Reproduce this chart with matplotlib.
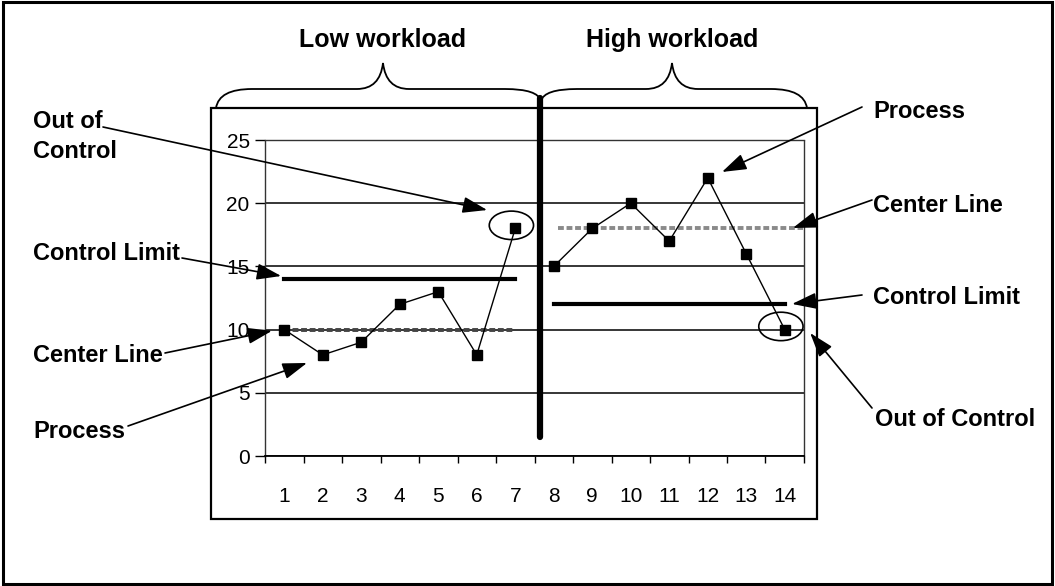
import matplotlib.pyplot as plt
from matplotlib.patches import Ellipse, Rectangle, PathPatch
from matplotlib.path import Path

plt.rcParams['font.family'] = ['Liberation Sans', 'DejaVu Sans']

# ---------------------- data ----------------------
samples = list(range(1, 15))
process = [10, 8, 9, 12, 13, 8, 18, 15, 18, 20, 17, 22, 16, 10]
n_low = 7  # samples 1-7 low workload, 8-14 high workload

low_center = 10
low_limit = 14
high_center = 18
high_limit = 12

y_ticks = [0, 5, 10, 15, 20, 25]
group_labels = ['Low workload', 'High workload']

# ---------------------- figure ----------------------
W, H = 1055, 586
fig = plt.figure(figsize=(W / 100, H / 100), dpi=100)


def fx(x, y):
    # pixel (from top-left) -> figure fraction
    return (x / W, 1 - y / H)


ax = fig.add_axes([265 / W, 1 - 456 / H, (804 - 265) / W, (456 - 140) / H])
ax.set_xlim(0.5, 14.5)
ax.set_ylim(0, 25)

# process lines (two separate runs)
x_low, x_high = samples[:n_low], samples[n_low:]
p_low, p_high = process[:n_low], process[n_low:]
for xs, ys in [(x_low, p_low), (x_high, p_high)]:
    ax.plot(xs, ys, color='black', lw=1.0, marker='s', markersize=7,
            markerfacecolor='black', markeredgecolor='black', zorder=5)

# center lines and control limits
ax.plot([x_low[0], x_low[-1]], [low_center] * 2, color='#444444', lw=2.8,
        linestyle=(0, (1.5, 0.7)), zorder=3)
ax.plot([x_low[0], x_low[-1]], [low_limit] * 2, color='black', lw=3, zorder=3)
ax.plot([x_high[0] + 0.1, 14.47], [high_center] * 2, color='#8a8a8a', lw=2.8,
        linestyle=(0, (1.5, 0.7)), zorder=3)
ax.plot([x_high[0], x_high[-1]], [high_limit] * 2, color='black', lw=3, zorder=3)

# divider between workloads
ax.plot([7.65, 7.65], [1.5, 28.3], color='black', lw=4.5, clip_on=False,
        solid_capstyle='round', zorder=6)

# out of control circles
for i in [n_low - 1, len(samples) - 1]:
    ax.add_patch(Ellipse((samples[i] - 0.1, process[i] + 0.25), 1.15, 2.25,
                         fill=False, lw=1.2, color='black', clip_on=False, zorder=6))

# axes styling
ax.set_yticks(y_ticks)
ax.set_yticklabels([str(v) for v in y_ticks], fontsize=15)
ax.tick_params(axis='y', length=7, width=1, pad=4, direction='out')
ax.yaxis.grid(True, color='black', lw=1.1)
ax.get_ygridlines()[-1].set_visible(False)
ax.set_axisbelow(True)

ax.set_xticks([i + 0.5 for i in range(0, 15)])
ax.set_xticklabels([])
ax.set_xticks(samples, minor=True)
ax.set_xticklabels([str(s) for s in samples], minor=True, fontsize=15)
ax.tick_params(axis='x', which='major', length=5, width=1, direction='out')
ax.tick_params(axis='x', which='minor', length=0, pad=22)

for side in ['left', 'right', 'top']:
    ax.spines[side].set_linestyle((0, (1, 1)))
    ax.spines[side].set_linewidth(1)
    ax.spines[side].set_color('#333333')
ax.spines['bottom'].set_linewidth(1.3)

# chart box and outer frame
fig.add_artist(Rectangle(fx(211, 519), (817 - 211) / W, (519 - 108) / H,
                         transform=fig.transFigure, fill=False, lw=1.6, color='black'))
fig.add_artist(Rectangle(fx(3, 584), (1052 - 3) / W, (584 - 2) / H,
                         transform=fig.transFigure, fill=False, lw=2.2, color='black'))


# ---------------------- braces ----------------------
def brace(x0, x1, xm, y0, y1, y_mid, y_tip, r=36, rt=26):
    pts = [(x0, y0),
           (x0 + 3, y_mid), (x0 + r, y_mid),
           (xm - rt, y_mid),
           (xm - 3, y_mid), (xm, y_tip),
           (xm + 3, y_mid), (xm + rt, y_mid),
           (x1 - r, y_mid),
           (x1 - 3, y_mid), (x1, y1)]
    codes = [Path.MOVETO, Path.CURVE3, Path.CURVE3, Path.LINETO,
             Path.CURVE3, Path.CURVE3, Path.CURVE3, Path.CURVE3,
             Path.LINETO, Path.CURVE3, Path.CURVE3]
    path = Path([fx(*p) for p in pts], codes)
    fig.add_artist(PathPatch(path, transform=fig.transFigure, fill=False,
                             lw=1.3, color='black'))


brace(216, 541, 383, 108, 101, 89, 63)
brace(541, 807, 672, 101, 108, 89, 63)

fig.text(*fx(383, 40), group_labels[0], ha='center', va='center',
         fontsize=18, fontweight='bold')
fig.text(*fx(672, 40), group_labels[1], ha='center', va='center',
         fontsize=18, fontweight='bold')

# ---------------------- annotations ----------------------
label_kw = dict(fontsize=17, fontweight='bold', va='center', ha='left')
fig.text(*fx(33, 122), 'Out of', **label_kw)
fig.text(*fx(33, 152), 'Control', **label_kw)
fig.text(*fx(33, 253), 'Control Limit', **label_kw)
fig.text(*fx(33, 355), 'Center Line', **label_kw)
fig.text(*fx(33, 432), 'Process', **label_kw)
fig.text(*fx(873, 112), 'Process', **label_kw)
fig.text(*fx(873, 205), 'Center Line', **label_kw)
fig.text(*fx(873, 298), 'Control Limit', **label_kw)
fig.text(*fx(875, 420), 'Out of Control', **label_kw)

arrow = dict(arrowstyle='-|>,head_length=0.75,head_width=0.25', mutation_scale=20,
             lw=1.2, color='black', shrinkA=0, shrinkB=0)
# (tip in data coords, start in pixels from top-left)
arrows = [((6.27, 19.46), (103, 127)),
          ((0.92, 14.24), (182, 258)),
          ((0.68, 9.9), (165, 353)),
          ((1.59, 7.36), (128, 426)),
          ((12.37, 22.47), (862, 107)),
          ((14.21, 18.04), (872, 200)),
          ((14.19, 12.03), (862, 295)),
          ((14.66, 9.73), (872, 408))]
for tip, start in arrows:
    ax.annotate('', xy=tip, xycoords='data', xytext=(start[0], H - start[1]),
                textcoords='figure pixels', arrowprops=arrow, annotation_clip=False)

plt.savefig('out.png', dpi=100)
